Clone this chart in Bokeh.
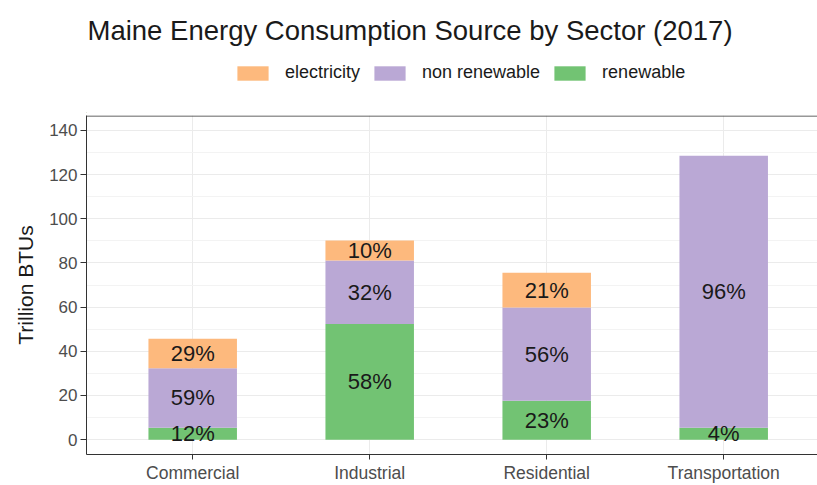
from bokeh.plotting import figure
from bokeh.layouts import column
from bokeh.models import (ColumnDataSource, Range1d, FixedTicker, SingleIntervalTicker,
                          Legend, LegendItem, Label, Span)
from bokeh.core.properties import value
from bokeh.embed import file_html
from bokeh.resources import INLINE

# ---- data (trillion BTUs) ----
sectors = ["Commercial", "Industrial", "Residential", "Transportation"]
renewable = [5.4, 52.3, 17.6, 5.4]
non_renewable = [26.9, 28.8, 42.2, 123.1]
electricity = [13.4, 9.0, 15.8, 0.0]

title_text = "Maine Energy Consumption Source by Sector (2017)"
y_label = "Trillion BTUs"
y_ticks = [0, 20, 40, 60, 80, 100, 120, 140]

# ---- styling ----
FONT = "Liberation Sans"
C_ELEC = "#FDB97D"
C_NONREN = "#BAA8D5"
C_REN = "#72C373"
W = 817
LEFT = 86
HEAD_H = 113
MAIN_H = 372

# ---------------- header: title + legend ----------------
# (its frame is aligned with the main chart's frame, so it spans x = LEFT..W)
head = figure(width=W, height=HEAD_H, output_backend="svg", toolbar_location=None, title=None,
              x_range=Range1d(LEFT, W), y_range=Range1d(0, HEAD_H),
              x_axis_type=None, y_axis_type=None, min_border=0)
head.outline_line_color = None
head.grid.visible = False
head.background_fill_color = "white"
head.border_fill_color = "white"

head.add_layout(Label(x=87, y=HEAD_H - 30, text=title_text, text_font_size="27.5px",
                      text_font=FONT, text_color="#1A1A1A", text_baseline="middle",
                      text_align="left"))

# proxy renderers for the legend keys (single point kept outside the header's view)
leg_src = ColumnDataSource(dict(x=[-100], top=[1]))
r_e = head.vbar(x="x", top="top", width=1, source=leg_src, fill_color=C_ELEC, line_color=None)
r_n = head.vbar(x="x", top="top", width=1, source=leg_src, fill_color=C_NONREN, line_color=None)
r_r = head.vbar(x="x", top="top", width=1, source=leg_src, fill_color=C_REN, line_color=None)
legend = Legend(items=[LegendItem(label="electricity", renderers=[r_e]),
                       LegendItem(label="non renewable", renderers=[r_n]),
                       LegendItem(label="renewable", renderers=[r_r])],
                location=(233 - LEFT, 30), orientation="horizontal",
                glyph_width=39, glyph_height=18, label_standoff=13, spacing=10,
                padding=0, margin=0, border_line_color=None, background_fill_alpha=0,
                label_text_font_size="18px", label_text_font=FONT,
                label_text_color="#1A1A1A")
head.add_layout(legend)

# ---------------- main chart ----------------
x = [i + 1 for i in range(len(sectors))]
src = ColumnDataSource(dict(x=x, renewable=renewable, non_renewable=non_renewable,
                            electricity=electricity))

p = figure(width=W, height=MAIN_H, output_backend="svg", toolbar_location=None, title=None,
           x_range=Range1d(0.4, 0.4 + (W - LEFT) / 177), y_range=Range1d(-6.73, 146.73),
           min_border_left=LEFT, min_border_right=0, min_border_top=2, min_border_bottom=28)
p.outline_line_color = None
p.background_fill_color = "white"
p.border_fill_color = "white"

rs = p.vbar_stack(["renewable", "non_renewable", "electricity"], x="x", width=0.5,
                  source=src, fill_color=[C_REN, C_NONREN, C_ELEC], line_color=None)

# percentage labels at the middle of each segment
lx, ly, lt = [], [], []
for i in range(len(sectors)):
    total = renewable[i] + non_renewable[i] + electricity[i]
    bottom = 0.0
    for vals in (renewable, non_renewable, electricity):
        v = vals[i]
        if v > 0:
            lx.append(x[i])
            ly.append(bottom + v / 2)
            lt.append(f"{round(100 * v / total)}%")
        bottom += v
lab_src = ColumnDataSource(dict(x=lx, y=ly, t=lt))
p.text(x="x", y="y", text="t", source=lab_src, text_align="center", text_baseline="middle",
       text_font_size="22px", text_color="#1A1A1A", text_font=value(FONT))

# grids
p.ygrid.ticker = SingleIntervalTicker(interval=20, num_minor_ticks=2)
p.ygrid.grid_line_color = "#EBEBEB"
p.ygrid.minor_grid_line_color = "#F3F3F3"
p.xgrid.ticker = FixedTicker(ticks=x)
p.xgrid.grid_line_color = "#EBEBEB"

# y axis
ya = p.yaxis[0]
ya.ticker = FixedTicker(ticks=y_ticks)
ya.axis_line_color = "#333333"
ya.major_tick_line_color = "#333333"
ya.major_tick_out = 6
ya.major_tick_in = 0
ya.minor_tick_line_color = None
ya.major_label_standoff = 3
ya.major_label_text_font_size = "17px"
ya.major_label_text_color = "#4D4D4D"
ya.major_label_text_font = FONT
ya.axis_label = y_label
ya.axis_label_text_font_size = "21px"
ya.axis_label_text_font_style = "normal"
ya.axis_label_text_color = "#1A1A1A"
ya.axis_label_text_font = FONT
ya.axis_label_standoff = 9

# x axis
xa = p.xaxis[0]
xa.ticker = FixedTicker(ticks=x)
xa.major_label_overrides = {xi: s for xi, s in zip(x, sectors)}
xa.axis_line_color = "#333333"
xa.major_tick_line_color = "#333333"
xa.major_tick_out = 5
xa.major_tick_in = 0
xa.minor_tick_line_color = None
xa.major_label_standoff = 3
xa.major_label_text_font_size = "17.5px"
xa.major_label_text_color = "#4D4D4D"
xa.major_label_text_font = FONT

# top panel border
p.add_layout(Span(location=146.5, dimension="width", line_color="#333333", line_width=1))

layout = column(head, p, spacing=0)
open("out.html", "w").write(file_html(layout, INLINE))
